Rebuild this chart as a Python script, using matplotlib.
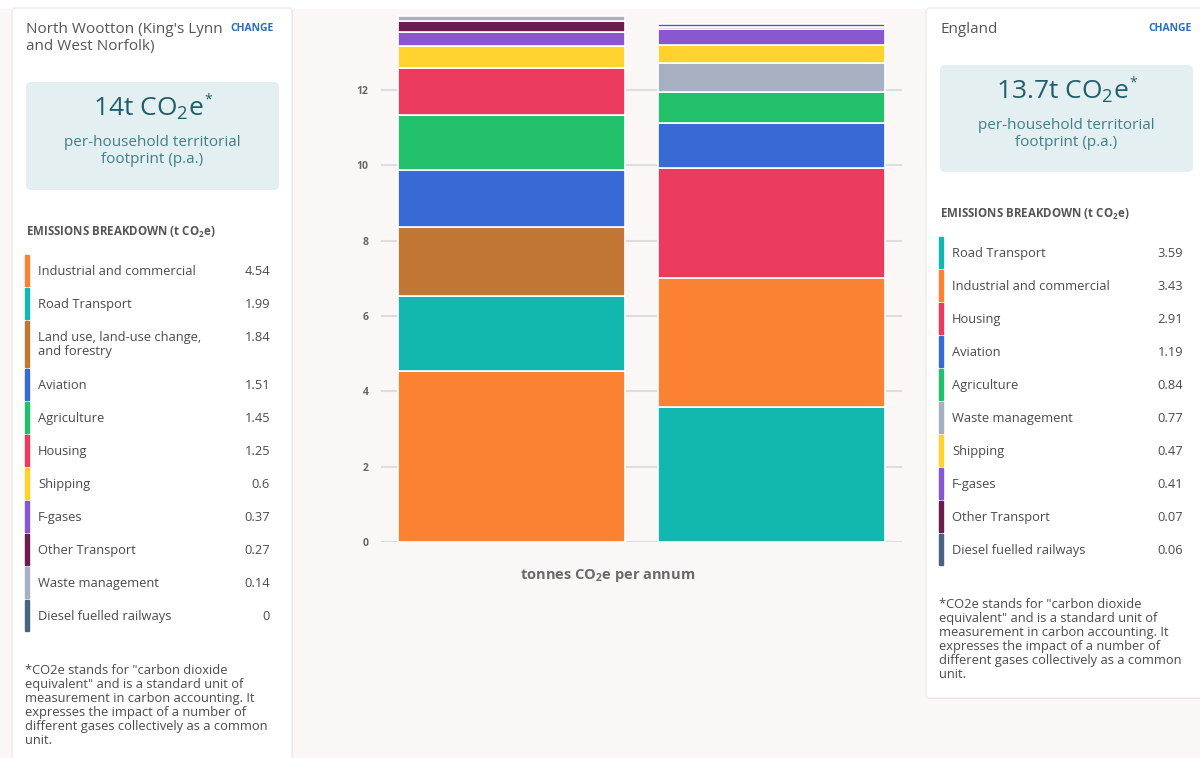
import matplotlib.pyplot as plt
from matplotlib.patches import FancyBboxPatch, Rectangle

plt.rcParams['font.family'] = ['Open Sans', 'DejaVu Sans']
plt.rcParams['mathtext.fontset'] = 'custom'
plt.rcParams['mathtext.rm'] = 'Open Sans'
plt.rcParams['mathtext.it'] = 'Open Sans:italic'
plt.rcParams['mathtext.bf'] = 'Open Sans:bold'

# ---- data ----
sectors = ['Industrial and commercial', 'Road Transport',
           'Land use, land-use change,\nand forestry', 'Aviation', 'Agriculture',
           'Housing', 'Shipping', 'F-gases', 'Other Transport',
           'Waste management', 'Diesel fuelled railways']
colors = ['#FC8233', '#12B8B0', '#C17634', '#3869D4', '#22C06B', '#EB3A5D',
          '#FFD22E', '#8956D1', '#6B1D4F', '#A7B0C1', '#4A6383']
local_values = [4.54, 1.99, 1.84, 1.51, 1.45, 1.25, 0.6, 0.37, 0.27, 0.14, 0]
local_labels = ['4.54', '1.99', '1.84', '1.51', '1.45', '1.25', '0.6', '0.37', '0.27', '0.14', '0']

england_sectors = ['Road Transport', 'Industrial and commercial', 'Housing', 'Aviation',
                   'Agriculture', 'Waste management', 'Shipping', 'F-gases',
                   'Other Transport', 'Diesel fuelled railways']
england_values = [3.59, 3.43, 2.91, 1.19, 0.84, 0.77, 0.47, 0.41, 0.07, 0.06]
england_labels = ['3.59', '3.43', '2.91', '1.19', '0.84', '0.77', '0.47', '0.41', '0.07', '0.06']

local_name = "North Wootton (King's Lynn\nand West Norfolk)"
local_total = '14t'
england_name = 'England'
england_total = '13.7t'
yticks = [0, 2, 4, 6, 8, 10, 12]

footnote = ('*CO2e stands for "carbon dioxide\nequivalent" and is a standard unit of\n'
            'measurement in carbon accounting. It\nexpresses the impact of a number of\n'
            'different gases collectively as a common\nunit.')

color_of = dict(zip(sectors, colors))

# ---- page ----
W, H = 1200, 758
fig = plt.figure(figsize=(12, 7.58), dpi=100)
renderer = fig.canvas.get_renderer()
bg = fig.add_axes([0, 0, 1, 1], zorder=0)
bg.set_xlim(0, W)
bg.set_ylim(H, 0)
bg.axis('off')
bg.add_patch(Rectangle((0, 0), W, H, color='#FAF7F6', zorder=0))
bg.add_patch(Rectangle((0, 0), W, 8, color='white', zorder=0))

text_col = '#4A4A4A'
teal_dark = '#1F5F6B'
teal_mid = '#3F8089'
blue_link = '#2C6DB5'


def card(x0, y0, x1, y1):
    bg.add_patch(FancyBboxPatch((x0 + 1, y0 + 1), x1 - x0, y1 - y0,
                                boxstyle='round,pad=0,rounding_size=3',
                                fc='#E9E4E3', ec='none', zorder=1))
    bg.add_patch(FancyBboxPatch((x0, y0), x1 - x0, y1 - y0,
                                boxstyle='round,pad=0,rounding_size=3',
                                fc='white', ec='#ECE8E7', lw=0.8, zorder=1))


def panel(x0, x1, change_x, name, total, box_top, box_bot, head_y, items,
          labels, list_top, value_x, foot_y):
    bg.text(x0 + 14, 22, name, fontsize=11, color='#555555', va='top',
            linespacing=1.2, zorder=3)
    bg.text(change_x, 23, 'CHANGE', fontsize=7.5, color=blue_link,
            fontweight='bold', ha='right', va='top', zorder=4)
    bx0, bx1 = x0 + 14, x1 - 13
    bg.add_patch(FancyBboxPatch((bx0, box_top), bx1 - bx0, box_bot - box_top,
                                boxstyle='round,pad=0,rounding_size=5',
                                fc='#E3EFF1', ec='none', zorder=2))
    cx = (bx0 + bx1) / 2
    big = bg.text(cx - 4, box_top + 27, total + r' CO$_2$e', fontsize=19, color=teal_dark,
                  ha='center', va='center', zorder=3)
    bb = big.get_window_extent(renderer)
    star_x = bg.transData.inverted().transform((bb.x1, bb.y1))[0]
    bg.text(star_x + 1, box_top + 18, '*', fontsize=10, color=teal_dark,
            ha='left', va='center', zorder=3)
    bg.text(cx, box_top + 69, 'per-household territorial\nfootprint (p.a.)', fontsize=11,
            color=teal_mid, ha='center', va='center', linespacing=1.15, zorder=3)
    bg.text(x0 + 14, head_y, r'EMISSIONS BREAKDOWN (t CO$_\mathbf{2}$e)', fontsize=8.3,
            color='#555555', fontweight='bold', va='center', zorder=3)
    top = list_top
    for name_i, val_lab in zip(items, labels):
        two = '\n' in name_i
        h = 46 if two else 31
        bg.add_patch(Rectangle((x0 + 13, top), 4, h, color=color_of[name_i], zorder=3))
        bg.text(x0 + 26, top + 10, name_i, fontsize=9.3, color=text_col, va='top',
                linespacing=1.1, zorder=3)
        bg.text(value_x, top + 10, val_lab, fontsize=9.3, color=text_col, va='top',
                ha='right', zorder=3)
        top += h + 2
    bg.text(x0 + 13, foot_y, footnote, fontsize=9.3, color=text_col, va='top',
            linespacing=1.1, zorder=3)


card(12, 8, 292, 770)
card(926, 8, 1215, 698)
panel(12, 292, 274, local_name, local_total, 82, 190, 232, sectors,
      local_labels, 255, 270, 664)
panel(926, 1206, 1192, england_name, england_total, 65, 172, 214, england_sectors,
      england_labels, 237, 1183, 598)

# ---- chart ----
ppu = (542 - 90) / 12
ymax = 14.1
ax = fig.add_axes([381 / W, (H - 542) / H, 521 / W, ymax * ppu / H], zorder=1)
ax.set_facecolor('none')
ax.set_xlim(-0.5, 1.5)
ax.set_ylim(0, ymax)
for s in ax.spines.values():
    s.set_visible(False)
ax.set_yticks(yticks)
ax.set_xticks([])
ax.tick_params(axis='y', length=0, labelsize=7.5, labelcolor='#666666', pad=9)
for lab in ax.get_yticklabels():
    lab.set_fontweight('bold')
ax.yaxis.grid(True, color='#DDDDDD', lw=1.5)
ax.set_axisbelow(True)

bar_w = 227 / 260
for xi, (names, vals) in enumerate([(sectors, local_values), (england_sectors, england_values)]):
    bottom = 0
    for n, v in zip(names, vals):
        if v > 0:
            ax.bar(xi, v, bottom=bottom, width=bar_w, color=color_of[n],
                   edgecolor='white', linewidth=1.2)
        bottom += v

ax.set_xlabel(r'tonnes CO$_\mathbf{2}$e per annum', fontsize=10.5, color='#6A6A6A',
              fontweight='bold')
ax.xaxis.set_label_coords((608 - 381) / 521, -25 / (ymax * ppu))

fig.savefig('out.png', dpi=100)
